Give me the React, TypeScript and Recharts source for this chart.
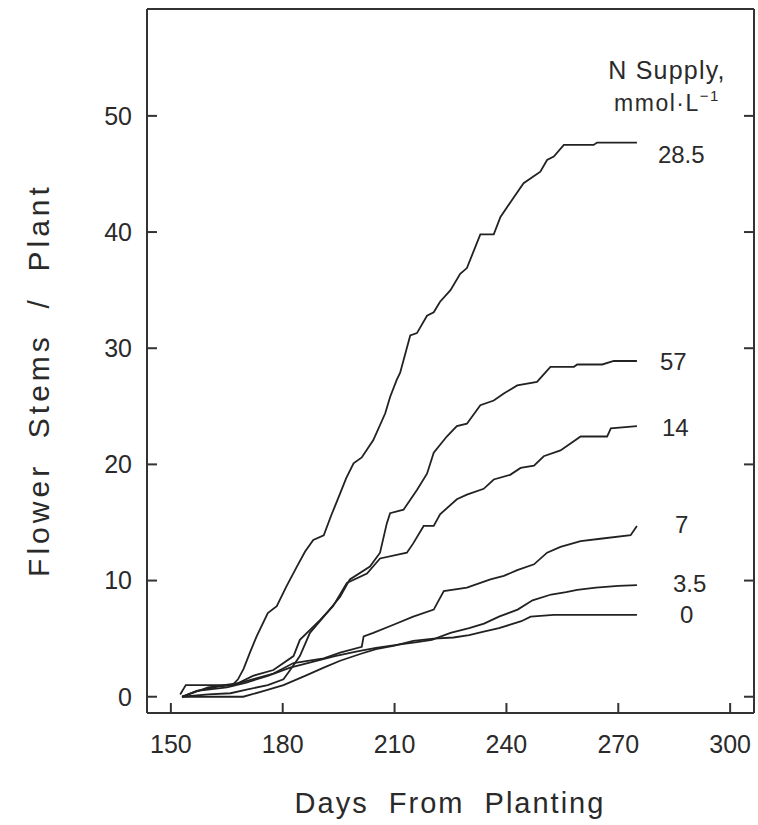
import React from 'react';
import { LineChart, Line, XAxis, YAxis } from 'recharts';

// cumulative flower stems per plant as [day, stems]
const n28_5: [number, number][] = [
  [152.5, 0.2], [154, 1.0], [166.5, 1.0], [168, 1.5], [169.5, 2.4], [171.2, 3.8], [173, 5.2],
  [176, 7.2], [178.4, 7.8], [181, 9.5], [183.8, 11.2], [186, 12.5], [188.2, 13.5], [191, 13.9],
  [193, 15.6], [195.4, 17.5], [197, 18.8], [199, 20.1], [201.2, 20.6], [204.3, 22.1],
  [207.5, 24.4], [208.8, 25.8], [210.6, 27.3], [211.5, 27.9], [214.2, 31.1], [216, 31.3],
  [218.7, 32.8], [220.5, 33.1], [222.2, 34.0], [225, 35.0], [227.6, 36.4], [229.4, 36.9],
  [233, 39.8], [236.6, 39.8], [238.4, 41.3], [242, 43.0], [244.6, 44.2], [249.1, 45.2],
  [250.9, 46.2], [252.7, 46.5], [255.4, 47.5], [263.4, 47.5], [264.3, 47.7], [275, 47.7],
];

const n57: [number, number][] = [
  [153, 0], [160, 0.2], [166, 0.3], [170, 0.6], [176, 1.0], [180.2, 1.5], [182, 2.3],
  [184.6, 3.5], [187.3, 5.5], [191.8, 7.2], [195.4, 8.6], [198, 10.1], [203.4, 11.2],
  [206.1, 12.4], [207.9, 14.9], [208.8, 15.8], [212.4, 16.1], [216, 17.8], [218.7, 19.2],
  [220.5, 21.0], [224, 22.4], [226.7, 23.3], [229.4, 23.5], [233, 25.1], [236.6, 25.5],
  [239.3, 26.1], [242.9, 26.8], [248.2, 27.1], [251.8, 28.4], [258.1, 28.4], [259, 28.6],
  [265.7, 28.6], [268.8, 28.9], [275, 28.9],
];

const n14: [number, number][] = [
  [153, 0], [157, 0.5], [163, 0.9], [167, 1.0], [172, 1.8], [177.5, 2.3], [182.9, 3.5],
  [184.6, 4.9], [190, 6.6], [193.5, 7.8], [197.2, 9.8], [202.6, 10.6], [206.1, 11.9],
  [213.3, 12.4], [215, 13.2], [217.8, 14.7], [220.5, 14.7], [222.2, 15.7], [226.7, 17.0],
  [229.4, 17.4], [233.9, 17.9], [236.6, 18.7], [241, 19.1], [243.8, 19.7], [247.4, 19.9],
  [250, 20.7], [254.5, 21.2], [259.9, 22.4], [267, 22.4], [268, 23.1], [275, 23.3],
];

const n7: [number, number][] = [
  [153, 0], [160, 0.8], [164.3, 1.0], [168.5, 1.2], [177.5, 2.0], [182.9, 2.9], [191, 3.3],
  [195.4, 3.8], [201.2, 4.3], [201.7, 5.2], [204.3, 5.5], [209.7, 6.2], [215, 6.9],
  [220.5, 7.5], [223.2, 9.1], [229.4, 9.4], [235.7, 10.1], [239.3, 10.4], [242.9, 10.9],
  [247.4, 11.4], [250.9, 12.4], [254.5, 12.9], [259.9, 13.4], [265.2, 13.6], [273.3, 13.9],
  [275, 14.7],
];

const n3_5: [number, number][] = [
  [153, 0], [157, 0.5], [165, 0.8], [170, 1.2], [176, 1.8], [182, 2.5], [188, 3.0],
  [194, 3.5], [200, 3.9], [205, 4.2], [211.5, 4.5], [216, 4.7], [220, 4.9], [225, 5.5],
  [230, 5.9], [234, 6.3], [238, 6.9], [243, 7.5], [247, 8.3], [252, 8.8], [256, 9.0],
  [259, 9.2], [264, 9.4], [270, 9.55], [275, 9.6],
];

const n0: [number, number][] = [
  [153, 0], [169.4, 0], [175, 0.5], [180.2, 1.0], [186, 1.8], [191, 2.5], [195.4, 3.1],
  [201, 3.7], [205, 4.1], [210, 4.4], [215, 4.8], [220.5, 5.0], [225.8, 5.1], [230, 5.3],
  [233.9, 5.6], [238, 5.9], [241, 6.2], [244, 6.5], [246.5, 6.9], [252.7, 7.05], [275, 7.05],
];

const supplyLabels = ['28.5', '57', '14', '7', '3.5', '0'];
const allSeries = [n28_5, n57, n14, n7, n3_5, n0];

const xTicks = [150, 180, 210, 240, 270, 300];
const yTicks = [0, 10, 20, 30, 40, 50];

// end-label nudges (px) so the text sits where the figure has it
const labelDx = [21, 23, 25, 38, 36, 43];
const labelDy = [12, 0, 1, -1, -2, 0];

const FONT = '"Liberation Sans", Arial, Helvetica, sans-serif';
const INK = '#222';
const FRAME = '#333';
const TICK_LEN = 10;
const X_LABEL_GAP = 22;
const Y_LABEL_GAP = 15;

// inward tick + label, since the figure has its ticks pointing into the plot
const BottomTick = (p: any) => (
  <g>
    <line x1={p.x} x2={p.x} y1={p.y - X_LABEL_GAP} y2={p.y - X_LABEL_GAP - TICK_LEN} stroke={FRAME} strokeWidth={2} />
    <text x={p.x} y={p.y} dy="0.71em" textAnchor="middle" fontSize={25} fontFamily={FONT} fill="#2a2a2a">
      {p.payload.value}
    </text>
  </g>
);

const LeftTick = (p: any) => (
  <g>
    <line x1={p.x + Y_LABEL_GAP} x2={p.x + Y_LABEL_GAP + TICK_LEN} y1={p.y} y2={p.y} stroke={FRAME} strokeWidth={2} />
    <text x={p.x} y={p.y} dy="0.355em" textAnchor="end" fontSize={25} fontFamily={FONT} fill="#2a2a2a">
      {p.payload.value}
    </text>
  </g>
);

const TopTick = (p: any) => (
  <line x1={p.x} x2={p.x} y1={p.y} y2={p.y + TICK_LEN} stroke={FRAME} strokeWidth={2} />
);

const RightTick = (p: any) => (
  <line x1={p.x} x2={p.x - TICK_LEN} y1={p.y} y2={p.y} stroke={FRAME} strokeWidth={2} />
);

const App: React.FC = () => {
  return (
    <div style={{ position: 'absolute', left: 0, top: 0, width: 758, height: 825, background: '#fff' }}>
      <LineChart width={758} height={825} margin={{ top: 8, right: 3, left: 0, bottom: 0 }}>
        <XAxis
          type="number"
          dataKey="day"
          domain={[143.6, 306.4]}
          ticks={xTicks}
          height={112}
          stroke={FRAME}
          strokeWidth={2}
          tickLine={false}
          tickSize={0}
          tickMargin={X_LABEL_GAP}
          tick={BottomTick}
          allowDataOverflow
        />
        <XAxis
          xAxisId="top"
          orientation="top"
          type="number"
          domain={[143.6, 306.4]}
          ticks={xTicks}
          height={1}
          stroke={FRAME}
          strokeWidth={2}
          tickLine={false}
          tickSize={0}
          tickMargin={0}
          tick={TopTick}
          allowDataOverflow
        />
        <YAxis
          type="number"
          domain={[-1.4, 59.2]}
          ticks={yTicks}
          width={147}
          stroke={FRAME}
          strokeWidth={2}
          tickLine={false}
          tickSize={0}
          tickMargin={Y_LABEL_GAP}
          tick={LeftTick}
          allowDataOverflow
        />
        <YAxis
          yAxisId="right"
          orientation="right"
          type="number"
          domain={[-1.4, 59.2]}
          ticks={yTicks}
          width={1}
          stroke={FRAME}
          strokeWidth={2}
          tickLine={false}
          tickSize={0}
          tickMargin={0}
          tick={RightTick}
          allowDataOverflow
        />
        {allSeries.map((pts, i) => {
          const data = pts.map(([day, stems]) => ({ day, stems }));
          const last = data.length - 1;
          return (
            <Line
              key={supplyLabels[i]}
              data={data}
              dataKey="stems"
              type="linear"
              stroke={INK}
              strokeWidth={1.8}
              dot={false}
              activeDot={false}
              isAnimationActive={false}
              label={(p: any) =>
                p.index === last ? (
                  <text
                    key={`lbl-${i}`}
                    x={p.x + labelDx[i]}
                    y={p.y + labelDy[i]}
                    dominantBaseline="central"
                    fontSize={24}
                    fontFamily={FONT}
                    fill="#2a2a2a"
                  >
                    {supplyLabels[i]}
                  </text>
                ) : null
              }
            />
          );
        })}
      </LineChart>
      <svg
        width={758}
        height={825}
        style={{ position: 'absolute', left: 0, top: 0, pointerEvents: 'none' }}
      >
        <text x={667} y={70} textAnchor="middle" dominantBaseline="central" fontSize={25} letterSpacing={1.2} fontFamily={FONT} fill="#2a2a2a">
          N Supply,
        </text>
        <text x={667} y={103} textAnchor="middle" dominantBaseline="central" fontSize={23} letterSpacing={1.5} fontFamily={FONT} fill="#2a2a2a">
          mmol·L<tspan dy={-8} fontSize={15}>−1</tspan>
        </text>
        <text
          x={450}
          y={803}
          textAnchor="middle"
          dominantBaseline="central"
          fontSize={29}
          letterSpacing={2}
          fontFamily={FONT}
          fill="#2a2a2a"
          style={{ whiteSpace: 'pre' }}
        >
          Days  From  Planting
        </text>
        <text
          x={38}
          y={380}
          transform="rotate(-90 38 380)"
          textAnchor="middle"
          dominantBaseline="central"
          fontSize={30}
          letterSpacing={4}
          fontFamily={FONT}
          fill="#2a2a2a"
          style={{ whiteSpace: 'pre' }}
        >
          Flower  Stems  /  Plant
        </text>
      </svg>
    </div>
  );
};

export default App;
